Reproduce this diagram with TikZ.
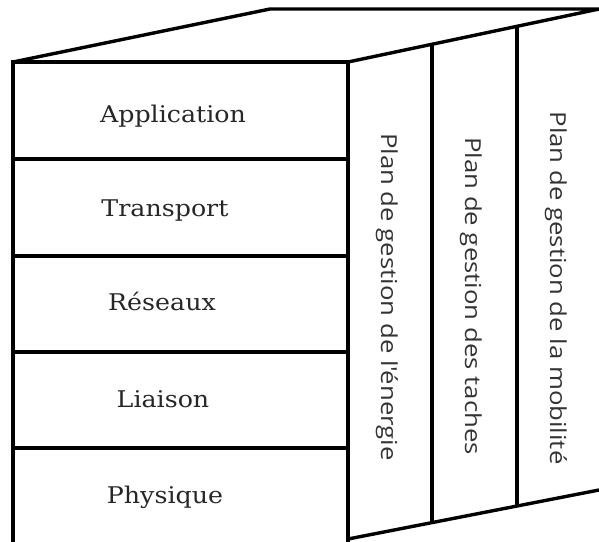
\documentclass[tikz,border=0pt]{standalone}
\usepackage{fontspec}
\setmainfont[FakeStretch=1.1]{DejaVu Serif}
\newfontfamily\planfont[FakeStretch=1.17]{Open Sans}
\begin{document}
\begin{tikzpicture}[x=1pt,y=-1pt,
  edge/.style={line width=3.4pt,line join=miter},
  layertext/.style={font=\fontsize{23}{27}\selectfont, inner sep=0pt, text=black!85, anchor=base},
  plantext/.style={font=\planfont\fontsize{22}{26}\selectfont, rotate=-90, inner sep=0pt, text=black!80, anchor=base}]
\useasboundingbox (0,0) rectangle (599,541);
\clip (0,0) rectangle (599,541);
% corners of the block
\coordinate (ftl) at (13,62);
\coordinate (ftr) at (348,62);
\coordinate (fbl) at (13,548);
\coordinate (fbr) at (348,548);
\coordinate (btl) at (270,9);
\coordinate (btr) at (599,9);
\coordinate (rbl) at (348,539);
\coordinate (rbr) at (599,490);
% layer boundaries on the front face
\coordinate (l1) at (13,159);  \coordinate (r1) at (348,159);
\coordinate (l2) at (13,256);  \coordinate (r2) at (348,256);
\coordinate (l3) at (13,352);  \coordinate (r3) at (348,352);
\coordinate (l4) at (13,448);  \coordinate (r4) at (348,448);
% strip boundaries on the side face
\coordinate (s1t) at (432,44);  \coordinate (s1b) at (432,523);
\coordinate (s2t) at (517,26);  \coordinate (s2b) at (517,506);

% top face
\draw[edge] (ftl) -- (btl) -- (btr) -- (ftr);
% front face
\draw[edge] (fbl) -- (ftl) -- (ftr) -- (fbr);
\foreach \i in {1,...,4} \draw[edge] (l\i) -- (r\i);
% side face
\draw[edge] (rbl) -- (rbr);
\draw[edge] (s1t) -- (s1b);
\draw[edge] (s2t) -- (s2b);

% protocol layers
\node[layertext] (app)   at (173,122) {Application};
\node[layertext] (trans) at (165,216) {Transport};
\node[layertext] (res)   at (162,310) {Réseaux};
\node[layertext] (liai)  at (163,407) {Liaison};
\node[layertext] (phys)  at (165,503) {Physique};

% management planes
\node[plantext] (energie)  at (381,297) {Plan de gestion de l'énergie};
\node[plantext] (taches)   at (465,296) {Plan de gestion des taches};
\node[plantext] (mobilite) at (550,288) {Plan de gestion de la mobilité};
\end{tikzpicture}
\end{document}
